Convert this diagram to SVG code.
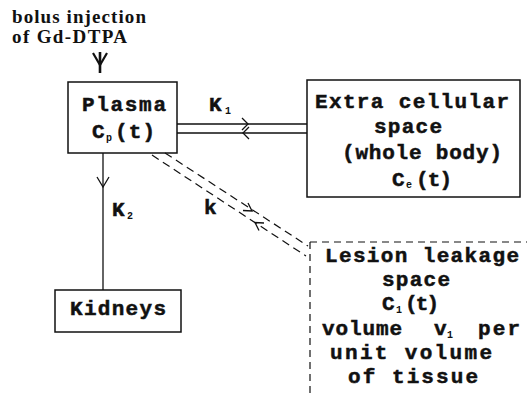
<svg xmlns="http://www.w3.org/2000/svg" width="527" height="396" viewBox="0 0 527 396">
<style>
.m{font-family:"Liberation Mono","Courier New",monospace;font-weight:bold;font-size:21px;fill:#111;stroke:#111;stroke-width:0.5}
.s{font-family:"Liberation Mono","Courier New",monospace;font-weight:bold;font-size:10px;fill:#111}
.r{font-family:"Liberation Serif","Times New Roman",serif;font-weight:bold;font-size:19px;fill:#111}
.box{fill:none;stroke:#111;stroke-width:1.5}
.ln{fill:none;stroke:#111;stroke-width:1.3}
.dl{fill:none;stroke:#111;stroke-width:1.2;stroke-dasharray:8 5}
.db{fill:none;stroke:#111;stroke-width:1.2;stroke-dasharray:7 5}
</style>
<rect width="527" height="396" fill="#fff"/>
<g id="bolus">
<text class="r" x="12" y="23" textLength="134" lengthAdjust="spacing">bolus injection</text>
<text class="r" x="12" y="43" textLength="115" lengthAdjust="spacing">of Gd-DTPA</text>
</g>
<g id="plasma">
<rect class="box" x="68" y="82" width="109" height="71"/>
<text class="m" x="82" y="111" textLength="84" lengthAdjust="spacing">Plasma</text>
<text class="m" x="92" y="138">C</text><text class="s" x="106" y="141">p</text>
<text class="m" x="115" y="138" textLength="40" lengthAdjust="spacing">(t)</text>
</g>
<g id="extracellular">
<rect class="box" x="307" y="80" width="213" height="117"/>
<text class="m" x="315" y="108" textLength="194" lengthAdjust="spacing">Extra cellular</text>
<text class="m" x="374" y="133" textLength="68" lengthAdjust="spacing">space</text>
<text class="m" x="342" y="159" textLength="160" lengthAdjust="spacing">(whole body)</text>
<text class="m" x="392" y="186">C</text><text class="s" x="406" y="188">e</text>
<text class="m" x="416" y="186" textLength="36" lengthAdjust="spacing">(t)</text>
</g>
<g id="kidneys">
<rect class="box" x="55" y="290" width="126" height="42"/>
<text class="m" x="70" y="315" textLength="96" lengthAdjust="spacing">Kidneys</text>
</g>
<g id="lesion">
<path class="db" d="M310 242 H527"/>
<path class="db" d="M310 242 V396"/>
<text class="m" x="325" y="262" textLength="194" lengthAdjust="spacing">Lesion leakage</text>
<text class="m" x="382" y="286" textLength="68" lengthAdjust="spacing">space</text>
<text class="m" x="382" y="310">C</text><text class="s" x="396" y="313">1</text>
<text class="m" x="405" y="310" textLength="34" lengthAdjust="spacing">(t)</text>
<text class="m" x="322" y="335" textLength="80" lengthAdjust="spacing">volume</text>
<text class="m" x="434" y="335">v</text><text class="s" x="447" y="338">1</text>
<text class="m" x="478" y="335" textLength="42" lengthAdjust="spacing">per</text>
<text class="m" x="330" y="359" textLength="162" lengthAdjust="spacing">unit volume</text>
<text class="m" x="348" y="383" textLength="130" lengthAdjust="spacing">of tissue</text>
</g>
<g id="connectors">
<path d="M100 52 V73" fill="none" stroke="#111" stroke-width="2.6"/>
<path d="M93 53 L100 65 L107 53" fill="none" stroke="#111" stroke-width="2.2"/>
<path class="ln" d="M103 153 V290"/>
<path class="ln" d="M97 177 L103 187 L109 177"/>
<path class="ln" d="M177 124 H307 M177 133 H307"/>
<path class="ln" d="M242 118 L248 124 L242 130 M249 127 L243 133 L249 139"/>
<path class="dl" d="M165 153 L308 246"/>
<path class="dl" d="M152 155 L306 256"/>
<path class="ln" d="M243 210.5 L252 211 L248 203"/>
<path class="ln" d="M264 223 L255 222.5 L259 230.5"/>
<text class="m" x="209" y="111">K</text><text class="s" x="225" y="114">1</text>
<text class="m" x="112" y="216">K</text><text class="s" x="127" y="219">2</text>
<text class="m" x="204" y="214">k</text>
</g>
</svg>
